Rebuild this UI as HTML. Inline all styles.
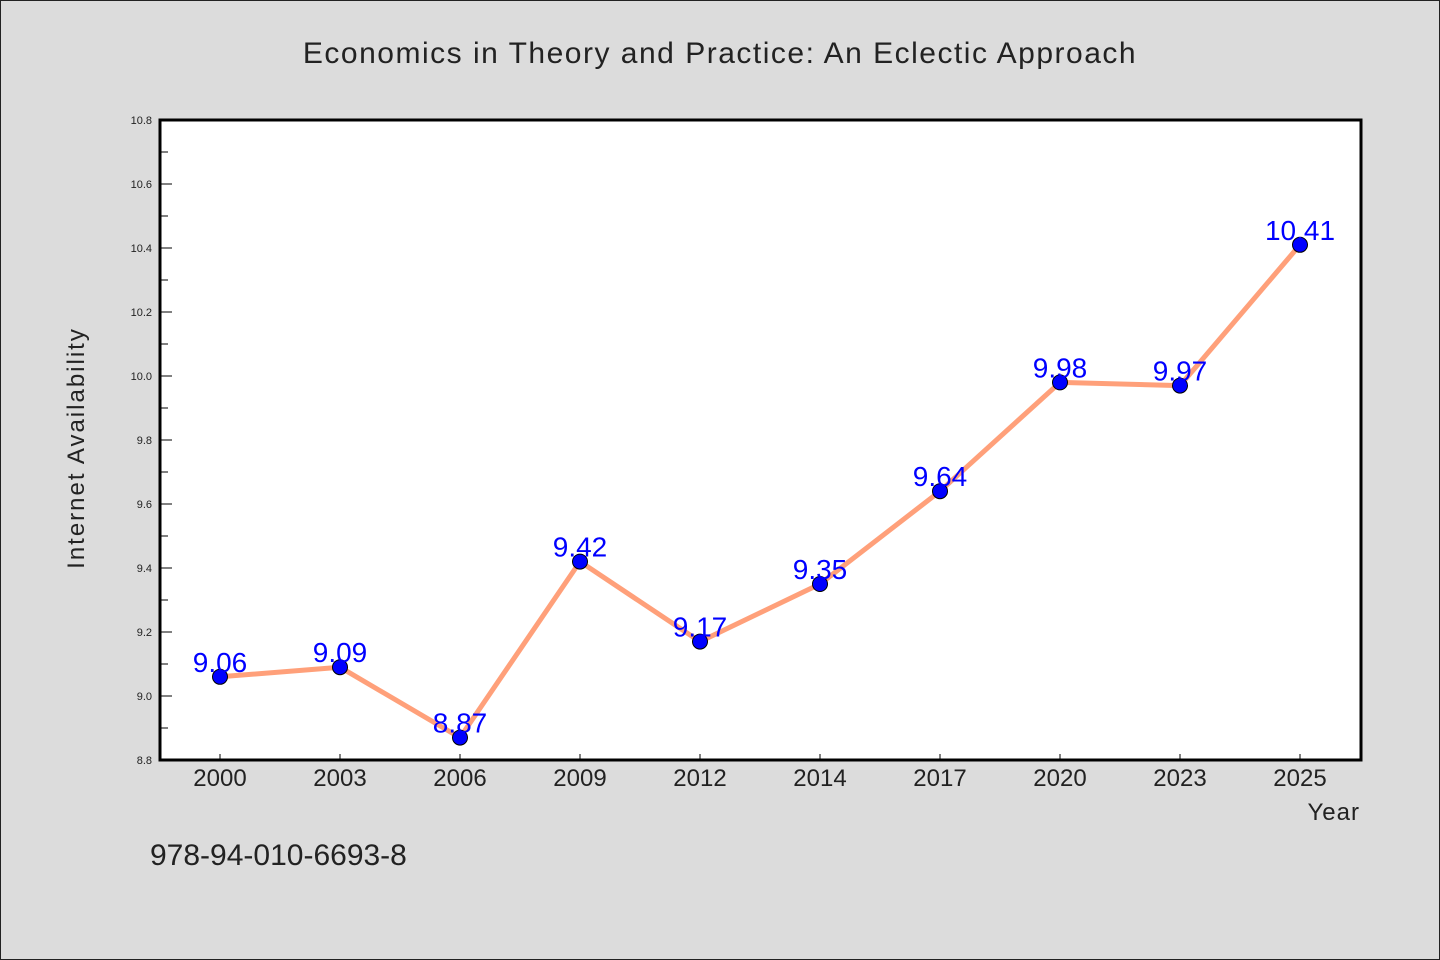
<!DOCTYPE html>
<html><head><meta charset="utf-8"><style>
html,body{margin:0;padding:0;background:#dcdcdc;}
svg{display:block;font-family:"WenQuanYi Zen Hei","Liberation Sans",sans-serif;}
</style></head><body>
<svg id="chart" width="1440" height="960" viewBox="0 0 1440 960">
<rect x="0.5" y="0.5" width="1439" height="959" fill="#dcdcdc" stroke="#222" stroke-width="1"/>
<text x="720" y="63" text-anchor="middle" font-size="30" fill="#222" letter-spacing="1.5">Economics in Theory and Practice: An Eclectic Approach</text>
<rect x="160" y="120" width="1201" height="640" fill="#fff"/>
<g id="yticks"></g>
<g id="xticks"></g>
<g id="series"></g>
<rect x="160" y="120" width="1201" height="640" fill="none" stroke="#000" stroke-width="3"/>
<text transform="translate(84,448) rotate(-90)" text-anchor="middle" font-size="24" fill="#222" letter-spacing="2">Internet Availability</text>
<text x="1360" y="820" text-anchor="end" font-size="24" fill="#222" letter-spacing="1">Year</text>
<text x="150" y="865" font-size="30" fill="#222">978-94-010-6693-8</text>
</svg>
<script>
const categories = ["2000","2003","2006","2009","2012","2014","2017","2020","2023","2025"];
const values = [9.06, 9.09, 8.87, 9.42, 9.17, 9.35, 9.64, 9.98, 9.97, 10.41];
const yTickLabels = ["8.8","9.0","9.2","9.4","9.6","9.8","10.0","10.2","10.4","10.6","10.8"];
const yMin = 8.8, yMax = 10.8;
const L = 160, R = 1361, T = 120, B = 760;
const NS = "http://www.w3.org/2000/svg";
function xPos(i){ return 220 + i * (1080 / (categories.length - 1)); }
function yPos(v){ return B - (v - yMin) / (yMax - yMin) * (B - T); }
function mk(tag, attrs, parent){ const e = document.createElementNS(NS, tag); for (const k in attrs) e.setAttribute(k, attrs[k]); parent.appendChild(e); return e; }
const yg = document.getElementById('yticks');
yTickLabels.forEach((t) => {
  const v = parseFloat(t), y = yPos(v);
  const ln = mk('line', {x1: L, x2: L + 12, y1: y, y2: y, stroke: '#000', 'stroke-width': 1}, yg);
  
  
  const tx = mk('text', {x: L - 8, y: y + 4, 'text-anchor': 'end', 'font-size': 11, fill: '#222'}, yg);
  tx.textContent = t;
  
  
  if (v < yMax - 0.01) {
    const ym = yPos(v + 0.1);
    const mn = mk('line', {x1: L, x2: L + 8, y1: ym, y2: ym, stroke: '#000', 'stroke-width': 1}, yg);
    
    
  }
});
const xg = document.getElementById('xticks');
categories.forEach((c, i) => {
  const x = xPos(i);
  const ln = mk('line', {x1: x, x2: x, y1: B, y2: B - 6, stroke: '#000', 'stroke-width': 1}, xg);
  
  
  const tx = mk('text', {x: x, y: B + 26, 'text-anchor': 'middle', 'font-size': 24, fill: '#222'}, xg);
  tx.textContent = c;
  
  
});
const sg = document.getElementById('series');
const pts = values.map((v, i) => xPos(i) + ',' + yPos(v)).join(' ');
const pl = mk('polyline', {points: pts, fill: 'none', stroke: '#ffa07a', 'stroke-width': 5, 'stroke-linejoin': 'round'}, sg);


values.forEach((v, i) => {
  const x = xPos(i), y = yPos(v);
  const c = mk('circle', {cx: x, cy: y, r: 7.5, fill: '#0000ff', stroke: '#000', 'stroke-width': 1}, sg);
  
  
  const t = mk('text', {x: x, y: y - 5, 'text-anchor': 'middle', 'font-size': 28, fill: '#0000ff'}, sg);
  t.textContent = v.toFixed(2);
  
  
});
</script>
</body></html>
